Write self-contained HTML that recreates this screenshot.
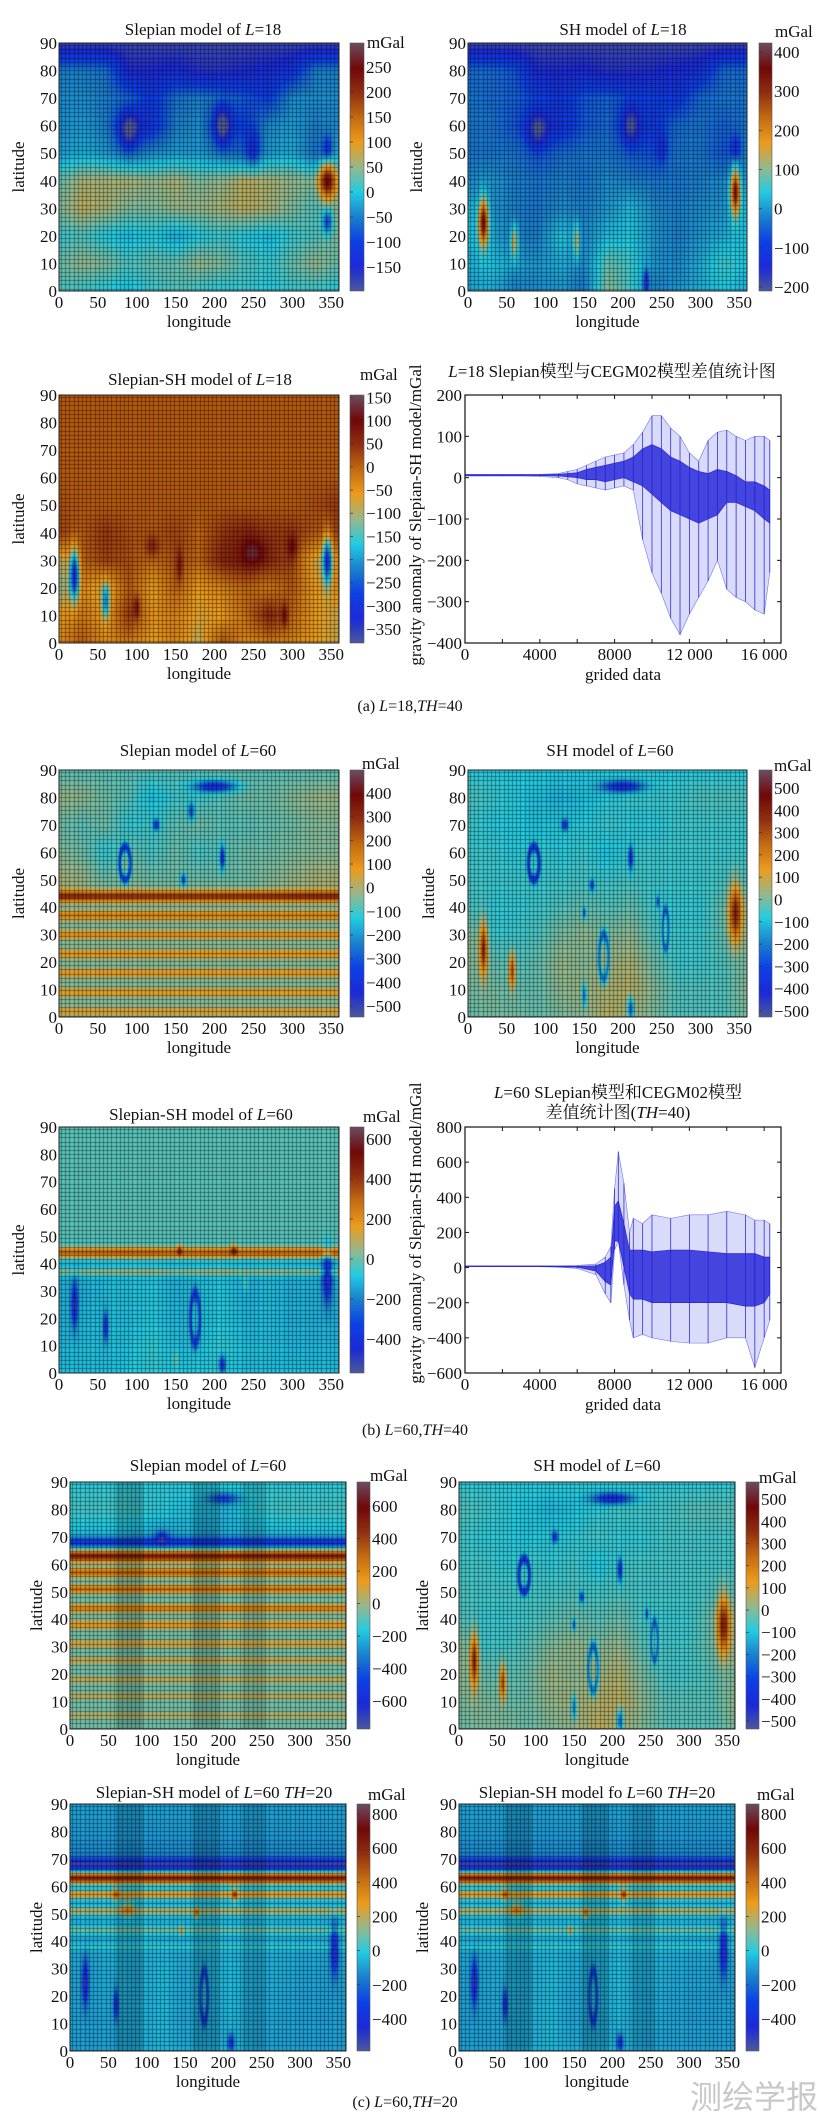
<!DOCTYPE html>
<html><head><meta charset="utf-8">
<style>
html,body{margin:0;padding:0;background:#fff;}
body{width:820px;height:2114px;position:relative;overflow:hidden;font-family:"Liberation Serif","Noto Serif CJK SC",serif;}
canvas{position:absolute;display:block;}
#ov{position:absolute;left:0;top:0;}
</style></head>
<body>
<svg id="ov" width="820" height="2114" xmlns="http://www.w3.org/2000/svg"></svg>
<script>
// ---------- chart data (line charts) ----------
const idx1=[0,1000,2000,3000,4000,5000,5500,6000,6500,7000,7500,8000,8500,9000,9500,10000,10500,11000,11500,12000,12500,13000,13500,14000,14500,15000,15500,16000,16300];
const up1=[8,8,8,8,8,10,15,20,30,40,50,55,60,80,110,150,150,120,100,60,40,90,110,115,100,90,100,100,90];
const lo1=[4,4,4,4,3,0,-5,-15,-20,-25,-30,-25,-20,-30,-150,-230,-280,-340,-380,-330,-290,-250,-200,-270,-290,-300,-320,-330,-230];
const coreUp1=[7,7,7,7,7,8,10,12,20,25,30,35,40,50,70,80,70,50,40,25,15,10,20,15,5,-10,-10,-20,-30];
const coreLo1=[5,5,5,5,5,4,2,0,-5,-5,-10,-5,0,-10,-20,-40,-60,-80,-90,-100,-110,-100,-90,-60,-60,-70,-80,-100,-110];
const yTicks1=[200,100,0,-100,-200,-300,-400];

const idx2=[0,1000,2000,3000,4000,5000,6000,7000,7500,7800,8000,8200,8500,8800,9000,9500,10000,11000,12000,13000,14000,15000,15500,16000,16300];
const up2=[10,10,10,10,10,10,12,20,60,120,450,660,480,200,280,250,300,280,300,300,320,300,270,270,250];
const lo2=[5,5,5,5,5,2,-5,-40,-150,-200,100,150,-100,-300,-400,-380,-400,-420,-430,-430,-400,-400,-570,-400,-300];
const coreUp2=[9,9,9,9,9,8,8,10,30,60,350,380,250,100,100,100,90,100,100,90,80,80,80,60,60];
const coreLo2=[6,6,6,6,6,4,2,-20,-80,-100,150,150,0,-150,-180,-180,-200,-200,-200,-200,-200,-220,-220,-200,-150];
const yTicks2=[800,600,400,200,0,-200,-400,-600];
const xTicksLine=[0,4000,8000,12000,16000];
const xTickLabelsLine=['0','4000','8000','12 000','16 000'];

// ---------- heatmap data (mGal; rows lat 90..0 step 10, cols lon 0..360 step 30) ----------
const gridA1=[
[-180,-180,-180,-180,-180,-180,-180,-180,-180,-180,-180,-180,-180],
[-50,-50,-60,-150,-150,-140,-160,-160,-150,-140,-120,-50,-50],
[-40,-40,-50,-70,-110,-60,-50,-60,-80,-100,-40,-40,-40],
[-40,-30,-50,-130,-120,-50,-40,-110,-100,-40,-30,-50,-40],
[-30,-20,-30,-60,-40,-30,-30,-50,-70,-30,-20,-60,-20],
[30,60,60,60,50,60,40,50,70,60,50,40,60],
[40,70,60,40,40,50,50,60,70,60,40,20,40],
[10,20,0,-10,0,-20,0,10,0,-10,10,20,40],
[30,50,40,20,30,30,50,40,20,10,30,50,30],
[20,10,0,-10,10,20,10,0,10,0,10,10,0]];
const blobsA1=[[345,40,200,10,6],[345,25,-120,6,4],[90,58,-100,12,6],[210,60,-120,10,7],[250,52,-80,8,6],[345,52,-80,6,4]];

const gridA2=[
[-190,-190,-190,-190,-190,-190,-190,-190,-190,-190,-190,-190,-190],
[-40,-40,-60,-150,-150,-140,-160,-160,-150,-140,-120,-40,-40],
[-30,-40,-50,-80,-110,-60,-50,-70,-90,-100,-40,-30,-30],
[-30,-30,-60,-130,-120,-60,-40,-110,-100,-40,-30,-50,-30],
[-30,-30,-30,-60,-40,-30,-30,-50,-70,-30,-30,-60,-20],
[-10,0,-20,-30,-20,-30,-10,-20,-30,-30,-20,-10,0],
[30,0,-20,-30,-10,-20,0,30,-10,-20,-10,0,30],
[40,20,-20,-20,40,-10,30,40,0,-20,0,20,40],
[20,40,10,0,20,-10,80,60,0,-10,20,60,40],
[10,20,-20,-10,0,-30,100,60,-20,0,20,40,20]];
const blobsA2=[[20,25,330,6,8],[345,36,330,6,8],[60,18,150,5,6],[140,18,120,4,6],[230,3,-200,3,4],[210,60,-110,10,7],[90,58,-100,12,6],[345,52,-100,6,4],[250,52,-80,6,5]];

const gridA3=[
[10,10,10,10,10,10,10,10,10,10,10,10,10],
[10,10,10,10,10,10,10,10,10,10,10,10,10],
[10,10,10,10,10,10,10,10,10,10,10,10,10],
[10,10,10,10,10,10,10,10,10,10,10,10,10],
[20,10,10,10,10,10,10,10,10,10,10,20,40],
[30,10,40,20,10,30,0,40,60,40,40,10,30],
[-100,0,30,20,-10,20,0,60,70,50,30,-80,-40],
[-120,-40,-80,10,-60,0,-60,-30,0,-20,10,-60,-40],
[-60,-20,-60,40,-50,-30,-70,-60,-10,60,0,-60,-80],
[-40,10,-40,-20,-60,-30,-90,20,-40,-20,-30,-60,-80]];
const blobsA3=[[20,25,-250,6,9],[345,30,-240,6,9],[60,15,-150,5,6],[100,13,80,4,4],[155,28,70,4,6],[290,10,80,4,4],[250,33,70,15,5],[120,35,60,8,4],[300,35,70,6,4]];

const gridB1=[
[-80,-80,-80,-80,-80,-80,-80,-80,-80,-80,-80,-80,-80],
[-20,-30,-60,-80,-150,-100,-100,-80,-60,-60,-40,-20,-20],
[-60,-80,-60,-120,-100,-80,-60,-80,-80,-70,-60,-40,-40],
[-40,-60,-120,-60,-100,-60,-100,-80,-60,-60,-50,-40,-40],
[0,-20,-60,-40,-60,-60,-60,-60,-60,-40,-20,0,0],
[-40,-40,-40,-40,-40,-40,-40,-40,-40,-40,-40,-40,-40],
[-40,-40,-40,-40,-40,-40,-40,-40,-40,-40,-40,-40,-40],
[-40,-40,-40,-40,-40,-40,-40,-40,-40,-40,-40,-40,-40],
[-40,-40,-40,-40,-40,-40,-40,-40,-40,-40,-40,-40,-40],
[-40,-40,-40,-40,-40,-40,-40,-40,-40,-40,-40,-40,-40]];
const bandsB1=[[44,330,2],[37,180,1.6],[30,150,1.5],[23,140,1.5],[16,130,1.5],[9,120,1.5],[2,110,1.5]];
const blobsB1=[[200,84,-350,25,2],[125,70,-300,4,2],[170,75,-250,4,3],[210,58,-380,3,4],[160,50,-300,3,2]];
const ringsB1=[[85,56,-300,7,6]];

const gridB2=[
[-80,-80,-80,-80,-80,-80,-80,-80,-80,-80,-80,-80,-80],
[-40,-60,-80,-100,-120,-100,-80,-60,-60,-60,-40,-40,-40],
[-60,-80,-80,-100,-80,-80,-60,-80,-80,-60,-60,-60,-60],
[-60,-60,-80,-60,-80,-60,-100,-60,-60,-60,-60,-60,-60],
[-50,-60,-60,-60,-60,-50,-60,-50,-60,-60,-60,-50,-50],
[-40,-70,-70,-60,-40,-20,-40,-20,-60,-70,-70,-20,20],
[20,-60,-60,-40,0,20,0,20,-40,-60,-60,-20,20],
[20,-20,-40,-20,30,10,30,50,-10,-60,-60,-40,0],
[0,0,-20,-20,20,30,50,70,10,-40,-40,-40,20],
[-20,0,0,-20,0,20,70,40,0,-40,-40,-40,0]];
const blobsB2=[[20,25,400,5,9],[345,38,400,8,10],[57,17,330,4,6],[210,3,-300,4,4],[200,84,-350,25,2],[125,70,-300,4,2],[210,58,-380,3,4],[160,48,-300,3,2],[150,38,-300,2,2],[245,42,-250,2,2],[150,8,-250,3,4]];
const ringsB2=[[85,56,-300,7,6],[175,22,-250,6,8],[255,32,-200,4,7]];

const gridB3=[
[-20,-20,-20,-20,-20,-20,-20,-20,-20,-20,-20,-20,-20],
[-20,-20,-20,-20,-20,-20,-20,-20,-20,-20,-20,-20,-20],
[-20,-20,-20,-20,-20,-20,-20,-20,-20,-20,-20,-20,-20],
[-20,-20,-20,-20,-20,-20,-20,-20,-20,-20,-20,-20,-20],
[-20,-20,-20,-20,-20,-20,-20,-20,-20,-20,-20,-20,-20],
[-120,-120,-110,-100,-100,-120,-110,-100,-120,-110,-120,-120,-120],
[-120,-120,-100,-100,-80,-120,-100,-80,-120,-100,-120,-120,-120],
[-120,-110,-100,-100,-80,-110,-100,-80,-110,-100,-120,-120,-120],
[-110,-100,-100,-90,-60,-100,-90,-60,-100,-100,-110,-110,-110],
[-100,-100,-100,-80,-60,-80,-80,-60,-100,-100,-100,-100,-100]];
const bandsB3=[[44,380,2],[37,150,1.5]];
const blobsB3=[[20,25,-400,4,8],[60,17,-350,3,5],[345,35,-380,6,9],[155,45,250,3,2],[225,45,250,4,2],[210,3,-350,4,3],[240,33,100,3,3],[150,5,100,3,3]];
const ringsB3=[[175,20,-250,6,9]];

const gridC1=[
[-150,-150,-150,-150,-150,-150,-150,-150,-150,-150,-150,-150,-150],
[-120,-120,-120,-130,-150,-180,-200,-200,-150,-120,-120,-120,-120],
[-200,-200,-200,-220,-250,-220,-250,-220,-220,-200,-200,-200,-200],
[-60,-60,-60,-60,-60,-60,-60,-60,-60,-60,-60,-60,-60],
[-60,-60,-60,-60,-60,-60,-60,-60,-60,-60,-60,-60,-60],
[-60,-60,-60,-60,-60,-60,-60,-60,-60,-60,-60,-60,-60],
[-60,-60,-60,-60,-60,-60,-60,-60,-60,-60,-60,-60,-60],
[-60,-60,-60,-60,-60,-60,-60,-60,-60,-60,-60,-60,-60],
[-60,-60,-60,-60,-60,-60,-60,-60,-60,-60,-60,-60,-60],
[-60,-60,-60,-60,-60,-60,-60,-60,-60,-60,-60,-60,-60]];
const bandsC1=[[68,-350,1.8],[63,600,2],[57,350,1.6],[51,320,1.5],[44,280,1.5],[38,220,1.5],[31,180,1.3],[25,150,1.2],[18,130,1.2],[12,120,1.2],[5,110,1.2]];
const blobsC1=[[120,70,-300,8,2],[200,84,-300,20,2]];
const shadeC=[[60,95,0.16],[160,195,0.16],[225,255,0.12]];

const gridC3=[
[-90,-90,-90,-90,-90,-90,-90,-90,-90,-90,-90,-90,-90],
[-100,-100,-100,-100,-100,-100,-100,-100,-100,-100,-100,-100,-100],
[-150,-150,-150,-150,-150,-150,-150,-150,-150,-150,-150,-150,-150],
[-60,-60,-60,-60,-60,-60,-60,-60,-60,-60,-60,-60,-60],
[-60,-60,-60,-60,-60,-60,-60,-60,-60,-60,-60,-60,-60],
[-70,-70,-60,-60,-60,-70,-60,-60,-70,-60,-70,-70,-70],
[-80,-80,-60,-70,-40,-70,-60,-40,-70,-60,-80,-80,-80],
[-90,-80,-70,-70,-40,-80,-70,-40,-80,-70,-90,-90,-90],
[-90,-90,-80,-70,-40,-80,-80,-50,-80,-80,-90,-90,-90],
[-90,-90,-90,-70,-50,-70,-70,-50,-90,-90,-90,-90,-90]];
const bandsC3=[[68,-400,2],[63,700,2],[57,350,1.5],[51,250,1.5],[44,150,1.5],[38,80,1.2]];
const blobsC3=[[20,25,-450,4,8],[60,17,-400,3,5],[345,37,-420,5,9],[165,50,300,3,2],[215,57,300,3,3],[145,44,250,2,2],[210,3,-350,4,3],[75,52,200,8,3],[60,57,200,4,3]];
const ringsC3=[[175,20,-250,5,9]];

const xTicksMap=[0,50,100,150,200,250,300,350];
const yTicksMap=[0,10,20,30,40,50,60,70,80,90];

// ---------- colormap ----------
const CM=[[0,[77,90,154]],[0.1,[28,42,216]],[0.2,[12,64,230]],[0.3,[26,128,204]],[0.4,[34,204,226]],[0.5,[150,184,140]],[0.6,[236,156,28]],[0.7,[196,108,18]],[0.8,[144,48,16]],[0.9,[112,8,8]],[1,[108,76,96]]];
function cmap(t){t=Math.max(0,Math.min(1,t));for(let i=1;i<CM.length;i++){if(t<=CM[i][0]){const a=CM[i-1],b=CM[i];const f=(t-a[0])/(b[0]-a[0]);return [a[1][0]+(b[1][0]-a[1][0])*f,a[1][1]+(b[1][1]-a[1][1])*f,a[1][2]+(b[1][2]-a[1][2])*f];}}return CM[CM.length-1][1];}

const panels=[
{name:'slepian-l18',x0:59,x1:339,y0:43,y1:291,cb0:350,cb1:364,tx:203,ty:35,title:'Slepian model of <tspan font-style="italic">L</tspan>=18',vmin:-198,vmax:298,cbt:[250,200,150,100,50,0,-50,-100,-150],grid:gridA1,blobs:blobsA1,latX:24,mgx:367,mgy:48},
{name:'sh-l18',x0:468,x1:747,y0:43,y1:291,cb0:759,cb1:772,tx:623,ty:35,title:'SH model of <tspan font-style="italic">L</tspan>=18',vmin:-210,vmax:423,cbt:[400,300,200,100,0,-100,-200],grid:gridA2,blobs:blobsA2,latX:422,mgx:775,mgy:37},
{name:'slepian-sh-l18',x0:59,x1:339,y0:395,y1:643,cb0:350,cb1:364,tx:200,ty:385,title:'Slepian-SH model of <tspan font-style="italic">L</tspan>=18',vmin:-380,vmax:155,cbt:[150,100,50,0,-50,-100,-150,-200,-250,-300,-350],grid:gridA3,blobs:blobsA3,latX:24,mgx:360,mgy:380},
{name:'slepian-l60-th40',x0:59,x1:339,y0:770,y1:1017,cb0:350,cb1:364,tx:198,ty:756,title:'Slepian model of <tspan font-style="italic">L</tspan>=60',vmin:-546,vmax:497,cbt:[400,300,200,100,0,-100,-200,-300,-400,-500],grid:gridB1,blobs:blobsB1,bands:bandsB1,rings:ringsB1,latX:24,mgx:362,mgy:769},
{name:'sh-l60-th40',x0:468,x1:747,y0:770,y1:1017,cb0:759,cb1:772,tx:610,ty:756,title:'SH model of <tspan font-style="italic">L</tspan>=60',vmin:-527,vmax:581,cbt:[500,400,300,200,100,0,-100,-200,-300,-400,-500],grid:gridB2,blobs:blobsB2,rings:ringsB2,latX:434,mgx:774,mgy:771},
{name:'slepian-sh-l60-th40',x0:59,x1:339,y0:1127,y1:1373,cb0:350,cb1:364,tx:201,ty:1120,title:'Slepian-SH model of <tspan font-style="italic">L</tspan>=60',vmin:-570,vmax:660,cbt:[600,400,200,0,-200,-400],grid:gridB3,blobs:blobsB3,bands:bandsB3,rings:ringsB3,latX:24,mgx:363,mgy:1122},
{name:'slepian-l60-th20',x0:70,x1:346,y0:1482,y1:1729,cb0:357,cb1:370,tx:208,ty:1471,title:'Slepian model of <tspan font-style="italic">L</tspan>=60',vmin:-772,vmax:748,cbt:[600,400,200,0,-200,-400,-600],grid:gridC1,blobs:blobsC1,bands:bandsC1,shade:shadeC,latX:42,mgx:370,mgy:1481},
{name:'sh-l60-th20',x0:459,x1:735,y0:1482,y1:1729,cb0:746,cb1:759,tx:597,ty:1471,title:'SH model of <tspan font-style="italic">L</tspan>=60',vmin:-536,vmax:577,cbt:[500,400,300,200,100,0,-100,-200,-300,-400,-500],grid:gridB2,blobs:blobsB2,rings:ringsB2,latX:428,mgx:759,mgy:1483},
{name:'slepian-sh-l60-th20-a',x0:70,x1:346,y0:1804,y1:2051,cb0:357,cb1:370,tx:214,ty:1798,title:'Slepian-SH model of <tspan font-style="italic">L</tspan>=60  <tspan font-style="italic">TH</tspan>=20',vmin:-587,vmax:858,cbt:[800,600,400,200,0,-200,-400],grid:gridC3,blobs:blobsC3,bands:bandsC3,rings:ringsC3,shade:shadeC,latX:42,mgx:368,mgy:1800},
{name:'slepian-sh-l60-th20-b',x0:459,x1:735,y0:1804,y1:2051,cb0:746,cb1:759,tx:597,ty:1798,title:'Slepian-SH model fo <tspan font-style="italic">L</tspan>=60 <tspan font-style="italic">TH</tspan>=20',vmin:-587,vmax:858,cbt:[800,600,400,200,0,-200,-400],grid:gridC3,blobs:blobsC3,bands:bandsC3,rings:ringsC3,shade:shadeC,latX:428,mgx:757,mgy:1800}
];

const SVGNS='http://www.w3.org/2000/svg';
const ov=document.getElementById('ov');
function mk(tag,attrs,parent){const e=document.createElementNS(SVGNS,tag);for(const k in attrs)e.setAttribute(k,attrs[k]);(parent||ov).appendChild(e);return e;}
function txt(x,y,s,size,anchor,name,parent){const e=mk('text',{x:x,y:y,'font-size':size,'text-anchor':anchor||'middle',fill:'#111','font-family':'"Liberation Serif","Noto Serif CJK SC",serif'},parent);e.innerHTML=s;return e;}
function fmt(v){return v<0?'\u2212'+(-v):String(v);}

function valueAt(p,lon,lat){
  const r=(90-lat)/10,c=lon/30;const r0=Math.min(8,Math.floor(r)),c0=Math.min(11,Math.floor(c));const fr=r-r0,fc=c-c0;const g=p.grid;
  let v=g[r0][c0]*(1-fr)*(1-fc)+g[r0][c0+1]*(1-fr)*fc+g[r0+1][c0]*fr*(1-fc)+g[r0+1][c0+1]*fr*fc;
  (p.blobs||[]).forEach(b=>{const dx=(lon-b[0])/b[3],dy=(lat-b[1])/b[4];v+=b[2]*Math.exp(-(dx*dx+dy*dy));});
  (p.bands||[]).forEach(b=>{const d=(lat-b[0])/b[2];v+=b[1]*Math.exp(-d*d);});
  (p.rings||[]).forEach(b=>{const dx=(lon-b[0])/b[3],dy=(lat-b[1])/b[4];const d=Math.sqrt(dx*dx+dy*dy);const q=(d-1)/0.3;v+=b[2]*Math.exp(-q*q);});
  return v;
}

panels.forEach(p=>{
  const w=p.x1-p.x0,h=p.y1-p.y0;
  const cv=document.createElement('canvas');cv.width=w;cv.height=h;cv.style.left=p.x0+'px';cv.style.top=p.y0+'px';
  
  
  document.body.insertBefore(cv,ov);
  const ctx=cv.getContext('2d');const im=ctx.createImageData(w,h);
  for(let py=0;py<h;py++){const lat=90*(1-(py+0.5)/h);for(let px=0;px<w;px++){const lon=360*(px+0.5)/w;const v=valueAt(p,lon,lat);const col=cmap((v-p.vmin)/(p.vmax-p.vmin));const i=(py*w+px)*4;im.data[i]=col[0];im.data[i+1]=col[1];im.data[i+2]=col[2];im.data[i+3]=255;}}
  ctx.putImageData(im,0,0);
  (p.shade||[]).forEach(s=>{ctx.fillStyle='rgba(0,0,0,'+s[2]+')';ctx.fillRect(s[0]/360*w,0,(s[1]-s[0])/360*w,h);});
  ctx.fillStyle='rgba(0,0,0,0.38)';
  for(let x=2;x<w;x+=4.2)ctx.fillRect(Math.round(x),0,1,h);
  for(let y=2;y<h;y+=4.2)ctx.fillRect(0,Math.round(y),w,1);
  const cb=document.createElement('canvas');const cw=p.cb1-p.cb0;cb.width=cw;cb.height=h;cb.style.left=p.cb0+'px';cb.style.top=p.y0+'px';
  
  
  document.body.insertBefore(cb,ov);
  const c2=cb.getContext('2d');
  for(let y=0;y<h;y++){const col=cmap(1-y/h);c2.fillStyle='rgb('+col.map(Math.round).join(',')+')';c2.fillRect(0,y,cw,1);}
  const g=mk('g',{});
  const fr=mk('rect',{x:p.x0,y:p.y0,width:w,height:h,fill:'none',stroke:'#222','stroke-width':1},g);
  
  
  const cbr=mk('rect',{x:p.cb0,y:p.y0,width:cw,height:h,fill:'none',stroke:'#555','stroke-width':0.6},g);
  
  
  txt(p.tx,p.ty,p.title,17,'middle',p.name+'-title',g);
  xTicksMap.forEach(t=>{const x=p.x0+t/360*w;txt(x,p.y1+17,String(t),17,'middle','x-tick-label',g);});
  yTicksMap.forEach(t=>{const y=p.y1-t/90*h;txt(p.x0-2,y+6,String(t),17,'end','y-tick-label',g);});
  txt(p.x0+w/2,p.y1+36,'longitude',17,'middle',p.name+'-x-axis-title',g);
  const lt=txt(0,0,'latitude',17,'middle',p.name+'-y-axis-title',g);lt.setAttribute('transform','translate('+p.latX+','+(p.y0+h/2)+') rotate(-90)');
  txt(p.mgx,p.mgy,'mGal',17,'start',p.name+'-colorbar-unit',g);
  p.cbt.forEach(t=>{const y=p.y1-(t-p.vmin)/(p.vmax-p.vmin)*h;txt(p.cb1+2,y+6,fmt(t),17,'start','colorbar-tick-label',g);
    const tk=mk('line',{x1:p.cb0,x2:p.cb0+3,y1:y,y2:y,stroke:'#333','stroke-width':0.7},g);
    
    });
});

// ---------- line charts ----------
function lineChart(cfg){
  const g=mk('g',{});
  const X=v=>cfg.x0+v/cfg.xmax*(cfg.x1-cfg.x0);const Y=v=>cfg.y1-(v-cfg.ymin)/(cfg.ymax-cfg.ymin)*(cfg.y1-cfg.y0);
  const bg=mk('rect',{x:cfg.x0,y:cfg.y0,width:cfg.x1-cfg.x0,height:cfg.y1-cfg.y0,fill:'#fff'},g);
  
  
  let pts=cfg.idx.map((d,i)=>X(d)+','+Y(cfg.up[i])).concat(cfg.idx.map((d,i)=>X(d)+','+Y(cfg.lo[i])).reverse());
  const env=mk('polygon',{points:pts.join(' '),fill:'rgba(70,70,230,0.2)',stroke:'rgba(40,40,220,0.6)','stroke-width':0.6},g);
  
  
  cfg.idx.forEach((d,i)=>{const s=mk('line',{x1:X(d),x2:X(d),y1:Y(cfg.up[i]),y2:Y(cfg.lo[i]),stroke:'#3030d8','stroke-width':0.8},g);
    
    });
  pts=cfg.idx.map((d,i)=>X(d)+','+Y(cfg.cu[i])).concat(cfg.idx.map((d,i)=>X(d)+','+Y(cfg.cl[i])).reverse());
  const core=mk('polygon',{points:pts.join(' '),fill:'rgba(30,30,215,0.8)',stroke:'#2020d0','stroke-width':0.6},g);
  
  
  const fr=mk('rect',{x:cfg.x0,y:cfg.y0,width:cfg.x1-cfg.x0,height:cfg.y1-cfg.y0,fill:'none',stroke:'#111','stroke-width':1.2},g);
  
  
  for(let t=0;t<=cfg.xmax;t+=2000){const x=X(t);
    const a=mk('line',{x1:x,x2:x,y1:cfg.y0,y2:cfg.y0+4,stroke:'#111'},g);
    const b=mk('line',{x1:x,x2:x,y1:cfg.y1,y2:cfg.y1-4,stroke:'#111'},g);}
  cfg.yt.forEach(t=>{const y=Y(t);
    const a=mk('line',{x1:cfg.x0,x2:cfg.x0+4,y1:y,y2:y,stroke:'#111'},g);
    const b=mk('line',{x1:cfg.x1,x2:cfg.x1-4,y1:y,y2:y,stroke:'#111'},g);
    txt(cfg.x0-3,y+6,fmt(t),17,'end','y-tick-label',g);});
  xTicksLine.forEach((t,i)=>txt(X(t),cfg.y1+17,xTickLabelsLine[i],17,'middle','x-tick-label',g));
  txt((cfg.x0+cfg.x1)/2,cfg.y1+37,'grided data',17,'middle','x-axis-title',g);
  const yl=txt(0,0,'gravity anomaly of Slepian-SH model/mGal',17,'middle','y-axis-title',g);yl.setAttribute('transform','translate('+cfg.ylx+','+cfg.yly+') rotate(-90)');
  cfg.titles.forEach((s,i)=>txt(cfg.tx,cfg.tys[i],s,17,'middle','chart-title',g));
}
lineChart({name:'diff-chart-l18',x0:465,x1:781,y0:395,y1:643,xmax:16900,ymin:-400,ymax:200,idx:idx1,up:up1,lo:lo1,cu:coreUp1,cl:coreLo1,yt:yTicks1,ylx:421,yly:515,tx:612,tys:[377],titles:['<tspan font-style="italic">L</tspan>=18 Slepian模型与CEGM02模型差值统计图']});
lineChart({name:'diff-chart-l60',x0:465,x1:781,y0:1127,y1:1373,xmax:16900,ymin:-600,ymax:800,idx:idx2,up:up2,lo:lo2,cu:coreUp2,cl:coreLo2,yt:yTicks2,ylx:421,yly:1233,tx:618,tys:[1098,1118],titles:['<tspan font-style="italic">L</tspan>=60 SLepian模型和CEGM02模型','差值统计图(<tspan font-style="italic">TH</tspan>=40)']});

txt(410,711,'(a) <tspan font-style="italic">L</tspan>=18,<tspan font-style="italic">TH</tspan>=40',16,'middle','caption-a');
txt(415,1435,'(b) <tspan font-style="italic">L</tspan>=60,<tspan font-style="italic">TH</tspan>=40',16,'middle','caption-b');
txt(405,2107,'(c) <tspan font-style="italic">L</tspan>=60,<tspan font-style="italic">TH</tspan>=20',16,'middle','caption-c');
const wm=txt(690,2108,'测绘学报',32,'start','watermark');wm.setAttribute('fill','#c8c8c8');wm.setAttribute('font-family','"Noto Sans CJK SC",sans-serif');
</script>
</body></html>
